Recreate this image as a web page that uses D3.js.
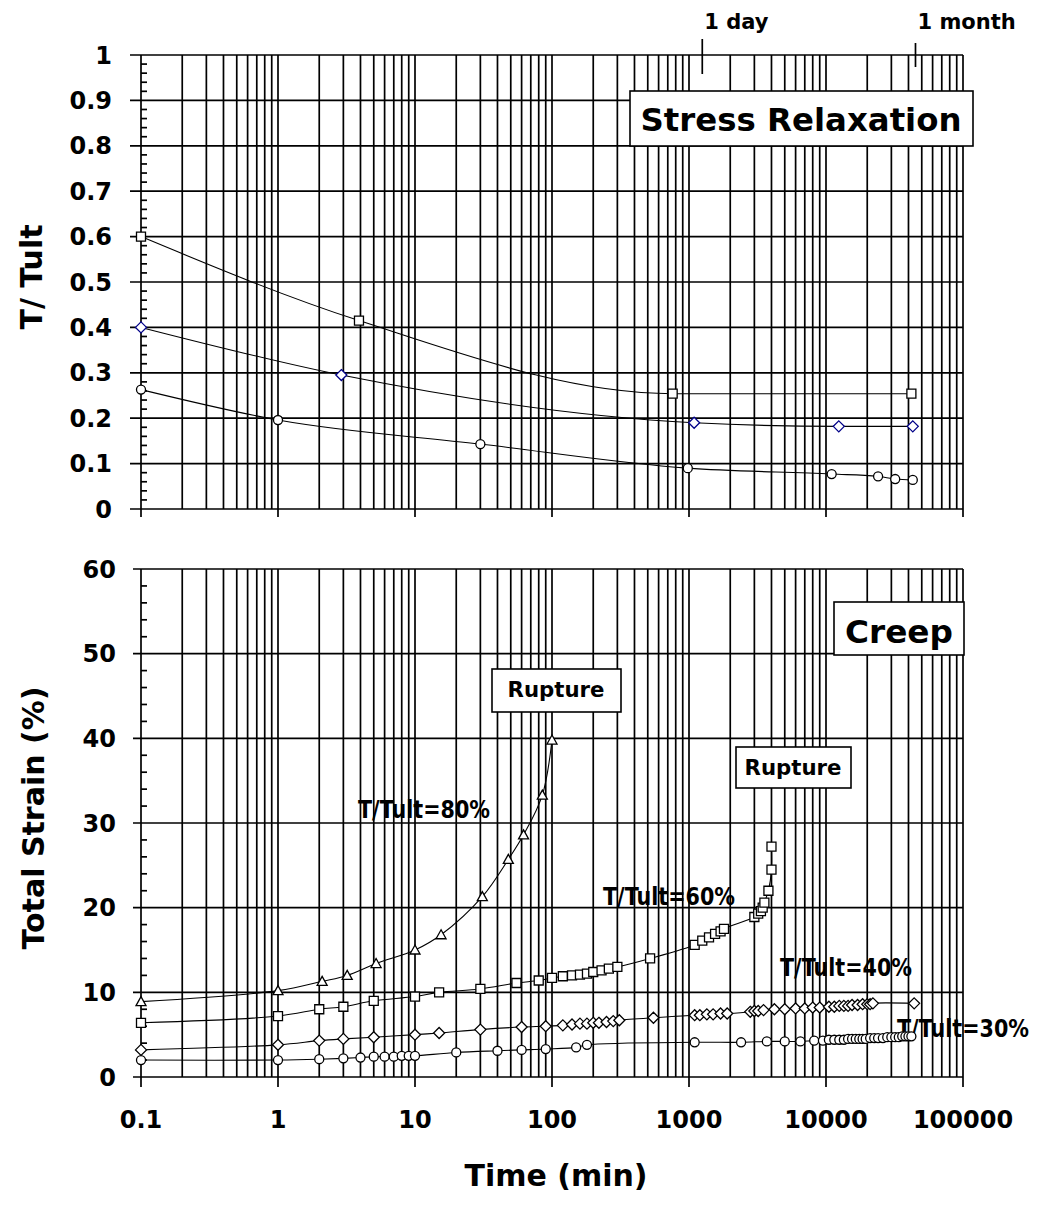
<!DOCTYPE html>
<html><head><meta charset="utf-8">
<script src="https://cdn.jsdelivr.net/npm/d3@7"></script>
<style>
body{margin:0;background:#fff}
svg{display:block}
text{font-family:"DejaVu Sans",sans-serif;font-weight:bold;fill:#000}
</style></head><body>
<svg id="c" width="1039" height="1207"></svg>
<script>
// ---------- data ----------
const timeDecades = [0.1, 1, 10, 100, 1000, 10000, 100000];
const timeLabels = ["0.1", "1", "10", "100", "1000", "10000", "100000"];
const ratioTicks = [0, 0.1, 0.2, 0.3, 0.4, 0.5, 0.6, 0.7, 0.8, 0.9, 1];
const ratioLabels = ["0", "0.1", "0.2", "0.3", "0.4", "0.5", "0.6", "0.7", "0.8", "0.9", "1"];
const strainTicks = [0, 10, 20, 30, 40, 50, 60];
const strainLabels = ["0", "10", "20", "30", "40", "50", "60"];
const timeMarks = [1250, 45000];
const timeMarkLabels = ["1 day", "1 month"];

// Stress relaxation (T/Tult vs time)
const relax60 = [[0.1, 0.60], [3.9, 0.415], [760, 0.254], [42000, 0.254]];
const relax40 = [[0.1, 0.40], [2.9, 0.295], [1090, 0.190], [12400, 0.182], [43000, 0.182]];
const relax30 = [[0.1, 0.263], [1, 0.196], [30, 0.143], [980, 0.090], [11000, 0.077], [24000, 0.072], [32000, 0.066], [43000, 0.064]];

// Creep (total strain % vs time)
const creep80 = [[0.1, 8.9], [1, 10.2], [2.1, 11.3], [3.2, 12.0], [5.2, 13.4], [10, 15.0], [15.5, 16.8], [31, 21.3], [48, 25.7], [62, 28.6], [85, 33.3], [100, 39.8]];
const creep60 = [[0.1, 6.4], [1, 7.2], [2, 8.0], [3, 8.3], [5, 9.0], [10, 9.5], [15, 10.0], [30, 10.4], [55, 11.1], [80, 11.4], [100, 11.7], [120, 11.9], [140, 12.0], [160, 12.1], [180, 12.2], [200, 12.4], [230, 12.6], [260, 12.8], [300, 13.0], [520, 14.0], [1100, 15.6], [1250, 16.1], [1400, 16.5], [1550, 16.9], [1700, 17.2], [1800, 17.5], [3000, 18.9], [3200, 19.3], [3350, 19.6], [3450, 20.0], [3550, 20.6], [3800, 22.0], [4000, 24.5], [4000, 27.2]];
const creep40 = [[0.1, 3.2], [1, 3.8], [2, 4.3], [3, 4.5], [5, 4.7], [10, 5.0], [15, 5.2], [30, 5.6], [60, 5.9], [90, 6.0], [120, 6.1], [140, 6.2], [160, 6.3], [180, 6.3], [200, 6.4], [220, 6.4], [250, 6.5], [280, 6.6], [310, 6.7], [550, 7.0], [1100, 7.3], [1200, 7.3], [1350, 7.4], [1500, 7.4], [1700, 7.5], [1900, 7.5], [2800, 7.7], [3000, 7.8], [3200, 7.8], [3500, 7.9], [4200, 8.0], [5000, 8.0], [6000, 8.1], [7000, 8.1], [8000, 8.2], [9000, 8.2], [10500, 8.3], [11500, 8.3], [12500, 8.4], [13500, 8.4], [14500, 8.4], [15500, 8.5], [17000, 8.5], [18500, 8.6], [20000, 8.6], [21000, 8.6], [22000, 8.7], [44000, 8.7]];
const creep30 = [[0.1, 2.0], [1, 2.0], [2, 2.1], [3, 2.2], [4, 2.3], [5, 2.4], [6, 2.4], [7, 2.4], [8, 2.5], [9, 2.5], [10, 2.5], [20, 2.9], [40, 3.1], [60, 3.2], [90, 3.3], [150, 3.5], [180, 3.8], [1100, 4.1], [2400, 4.1], [3700, 4.2], [5000, 4.2], [6500, 4.2], [8200, 4.3], [9500, 4.3], [10500, 4.4], [11500, 4.4], [12500, 4.4], [13500, 4.4], [14500, 4.5], [15500, 4.5], [16500, 4.5], [17500, 4.5], [18500, 4.5], [19500, 4.5], [21000, 4.6], [22500, 4.6], [24000, 4.6], [26000, 4.6], [28000, 4.7], [30000, 4.7], [32000, 4.7], [34000, 4.7], [36000, 4.8], [38000, 4.8], [40000, 4.8], [42000, 4.8]];

const creepLabels = ["T/Tult=80%", "T/Tult=60%", "T/Tult=40%", "T/Tult=30%"];

// ---------- drawing ----------
const svg = d3.select("#c");
const L = 141, R = 963;
const x = d3.scaleLog().domain([0.1, 100000]).range([L, R]);
const yT = d3.scaleLinear().domain([0, 1]).range([509, 55]);
const yB = d3.scaleLinear().domain([0, 60]).range([1077, 569]);
const allTimes = x.ticks();
const isMajor = t => timeDecades.some(d => Math.abs(Math.log10(t) - Math.log10(d)) < 1e-6);
const SW = 1.7;

function panel(y, ticks, labels, minorStep, gridLeft, labelRight, tickBottom) {
  const [y0, y1] = y.range(); // bottom, top
  const g = svg.append("g");
  g.selectAll("line.v").data(allTimes).join("line")
    .attr("x1", d => x(d)).attr("x2", d => x(d))
    .attr("y1", y1).attr("y2", d => isMajor(d) ? tickBottom : y0)
    .attr("stroke", "#000").attr("stroke-width", SW);
  g.selectAll("line.h").data(ticks).join("line")
    .attr("x1", gridLeft).attr("x2", R)
    .attr("y1", d => y(d)).attr("y2", d => y(d))
    .attr("stroke", "#000").attr("stroke-width", SW);
  const dom = y.domain();
  const minors = d3.range(dom[0], dom[1] + minorStep / 2, minorStep)
    .filter(v => !ticks.some(t => Math.abs(t - v) < minorStep / 10));
  g.selectAll("line.m").data(minors).join("line")
    .attr("x1", L).attr("x2", L + 6)
    .attr("y1", d => y(d)).attr("y2", d => y(d))
    .attr("stroke", "#000").attr("stroke-width", SW);
  g.selectAll("text.yl").data(ticks).join("text")
    .attr("x", labelRight).attr("y", d => y(d))
    .attr("dy", "0.36em").attr("text-anchor", "end")
    .style("font-size", "24px")
    .text((d, i) => labels[i]);
}

panel(yT, ratioTicks, ratioLabels, 0.02, 130, 112, 517);
panel(yB, strainTicks, strainLabels, 2, 133, 116, 1087);

svg.append("g").selectAll("text").data(timeDecades).join("text")
  .attr("x", d => x(d)).attr("y", 1128)
  .attr("text-anchor", "middle").style("font-size", "24px")
  .text((d, i) => timeLabels[i]);

svg.append("text").attr("transform", "translate(42,277) rotate(-90)")
  .attr("text-anchor", "middle").style("font-size", "30px").text("T/ Tult");
svg.append("text").attr("transform", "translate(44,818) rotate(-90)")
  .attr("text-anchor", "middle").style("font-size", "30px").text("Total Strain (%)");
svg.append("text").attr("x", 556).attr("y", 1186)
  .attr("text-anchor", "middle").style("font-size", "30px").text("Time (min)");

const markLen = [[39, 74], [43, 67]];
timeMarks.forEach((t, i) => {
  svg.append("line").attr("x1", x(t)).attr("x2", x(t))
    .attr("y1", markLen[i][0]).attr("y2", markLen[i][1])
    .attr("stroke", "#000").attr("stroke-width", 1.7);
  svg.append("text").attr("x", x(t) + 2).attr("y", 29)
    .style("font-size", "21px").text(timeMarkLabels[i]);
});

const sym = {
  square: "M-4.5,-4.5H4.5V4.5H-4.5Z",
  diamond: "M0,-5.5L5.5,0L0,5.5L-5.5,0Z",
  triangle: "M0,-5L5,4H-5Z",
  circle: d3.symbol(d3.symbolCircle, 64)()
};

function series(data, y, shape, color, curve) {
  const line = d3.line().x(d => x(d[0])).y(d => y(d[1])).curve(curve);
  svg.append("path").datum(data).attr("d", line)
    .attr("fill", "none").attr("stroke", "#000").attr("stroke-width", 1.1);
  svg.append("g").selectAll("path").data(data).join("path")
    .attr("transform", d => `translate(${x(d[0])},${y(d[1])})`)
    .attr("d", sym[shape])
    .attr("fill", "#fff").attr("stroke", color).attr("stroke-width", 1.3);
}

const smooth = d3.curveCatmullRom.alpha(0.5);
series(relax60, yT, "square", "#000", d3.curveMonotoneX);
series(relax40, yT, "diamond", "#000088", d3.curveMonotoneX);
series(relax30, yT, "circle", "#000", d3.curveMonotoneX);

// labels of creep curves drawn beneath the markers
const labelPos = [[358, 818], [603, 905], [780, 976], [897, 1037]];
svg.append("g").selectAll("text").data(creepLabels).join("text")
  .attr("x", (d, i) => labelPos[i][0]).attr("y", (d, i) => labelPos[i][1])
  .style("font-size", "25px")
  .attr("textLength", 132).attr("lengthAdjust", "spacingAndGlyphs")
  .text(d => d);

series(creep30, yB, "circle", "#000", smooth);
series(creep40, yB, "diamond", "#000", smooth);
series(creep60, yB, "square", "#000", smooth);
series(creep80, yB, "triangle", "#000", smooth);

function box(x0, y0, x1, y1, label, size, tx, ty, tlen) {
  svg.append("rect").attr("x", x0).attr("y", y0).attr("width", x1 - x0).attr("height", y1 - y0)
    .attr("fill", "#fff").attr("stroke", "#000").attr("stroke-width", 1.6);
  svg.append("text").attr("x", tx).attr("y", ty).attr("text-anchor", "middle")
    .style("font-size", size + "px")
    .attr("textLength", tlen).attr("lengthAdjust", "spacingAndGlyphs")
    .text(label);
}
box(630, 91, 973, 146, "Stress Relaxation", 32, 801, 131, 321);
box(834, 602, 964, 655, "Creep", 32, 899, 643, 108);
box(492, 669, 621, 712, "Rupture", 21, 556, 697, 97);
box(736, 747, 851, 788, "Rupture", 21, 793, 775, 97);
</script>
</body></html>
